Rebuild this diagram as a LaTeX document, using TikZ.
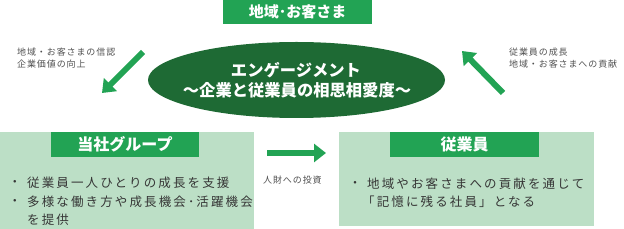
\documentclass[tikz,border=0pt]{standalone}
\usepackage{fontspec}
\setmainfont{Noto Sans CJK JP}
\newfontfamily\jpsp[LetterSpace=17]{Noto Sans CJK JP}
\newfontfamily\jpsm[LetterSpace=10]{Noto Sans CJK JP}
\usetikzlibrary{arrows.meta,shapes.geometric}
\definecolor{tgreen}{HTML}{22A354}
\definecolor{dgreen}{HTML}{1E6A34}
\definecolor{lgreen}{HTML}{BCDFC6}
\definecolor{btext}{HTML}{363636}
\definecolor{stext}{HTML}{505050}
\begin{document}
\begin{tikzpicture}[x=1pt,y=-1pt,
  titlebox/.style={fill=tgreen,draw=none,text=white,font=\fontsize{15}{17}\selectfont\bfseries,inner sep=0pt},
  panel/.style={fill=lgreen,draw=none},
  body/.style={anchor=west,inner sep=0pt,text=btext,font=\jpsp\fontsize{12.5}{14}\selectfont},
  dot/.style={inner sep=0pt,text=btext,font=\fontsize{12.5}{14}\selectfont},
  small/.style={anchor=west,inner sep=0pt,text=stext,font=\jpsm\fontsize{9}{10}\selectfont},
  etext/.style={text=white,font=\fontsize{16.3}{18}\selectfont\bfseries,inner sep=0pt},
  bigarrow/.style={draw=tgreen,line width=6pt,-{Triangle[length=12pt,width=18pt]}}]
\useasboundingbox (0,0) rectangle (624,229);
% top title
\node[titlebox,minimum width=149pt,minimum height=24pt] (top) at (297.5,12) {地域･お客さま};
% ellipse
\node[ellipse,fill=dgreen,minimum width=297pt,minimum height=76pt,inner sep=0pt] (ell) at (296.5,80) {};
\node[etext] (e1) at (296,70) {エンゲージメント};
\node[etext] (e2) at (297,90) {〜企業と従業員の相思相愛度〜};
% left panel
\node[panel,minimum width=254pt,minimum height=97pt,inner sep=0pt] (lp) at (127,180.5) {};
\node[titlebox,minimum width=148pt,minimum height=25pt,font=\fontsize{16}{18}\selectfont\bfseries] (lt) at (125,144.5) {当社グループ};
\node[dot] (lb0) at (15,183) {・};
\node[body] (lb1) at (27,183) {従業員一人ひとりの成長を支援};
\node[dot] (lb2a) at (15,202) {・};
\node[body] (lb2) at (27,202) {多様な働き方や成長機会･活躍機会};
\node[body] (lb3) at (27,220) {を提供};
% right panel
\node[panel,minimum width=255pt,minimum height=94pt,inner sep=0pt] (rp) at (466.5,179) {};
\node[titlebox,minimum width=149pt,minimum height=25pt,font=\fontsize{16}{18}\selectfont\bfseries] (rt) at (464.5,144.5) {従業員};
\node[dot] (rb0) at (355,184) {・};
\node[body] (rb1) at (367,184) {地域やお客さまへの貢献を通じて};
\node[body] (rb2) at (362,202) {「記憶に残る社員」となる};
% small labels
\node[small] (s1) at (17,52) {地域・お客さまの信認};
\node[small] (s2) at (17,64) {企業価値の向上};
\node[small] (s3) at (509,52) {従業員の成長};
\node[small] (s4) at (509,64) {地域・お客さまへの貢献};
\node[small] (s5) at (263,180) {人財への投資};
% arrows
\coordinate (a1s) at (143,52);
\coordinate (a1e) at (102,93);
\coordinate (a2s) at (503,93);
\coordinate (a2e) at (462,51);
\coordinate (a3s) at (267,153);
\coordinate (a3e) at (326,153);
\draw[bigarrow] (a1s) -- (a1e);
\draw[bigarrow] (a2s) -- (a2e);
\draw[bigarrow] (a3s) -- (a3e);
\end{tikzpicture}
\end{document}
